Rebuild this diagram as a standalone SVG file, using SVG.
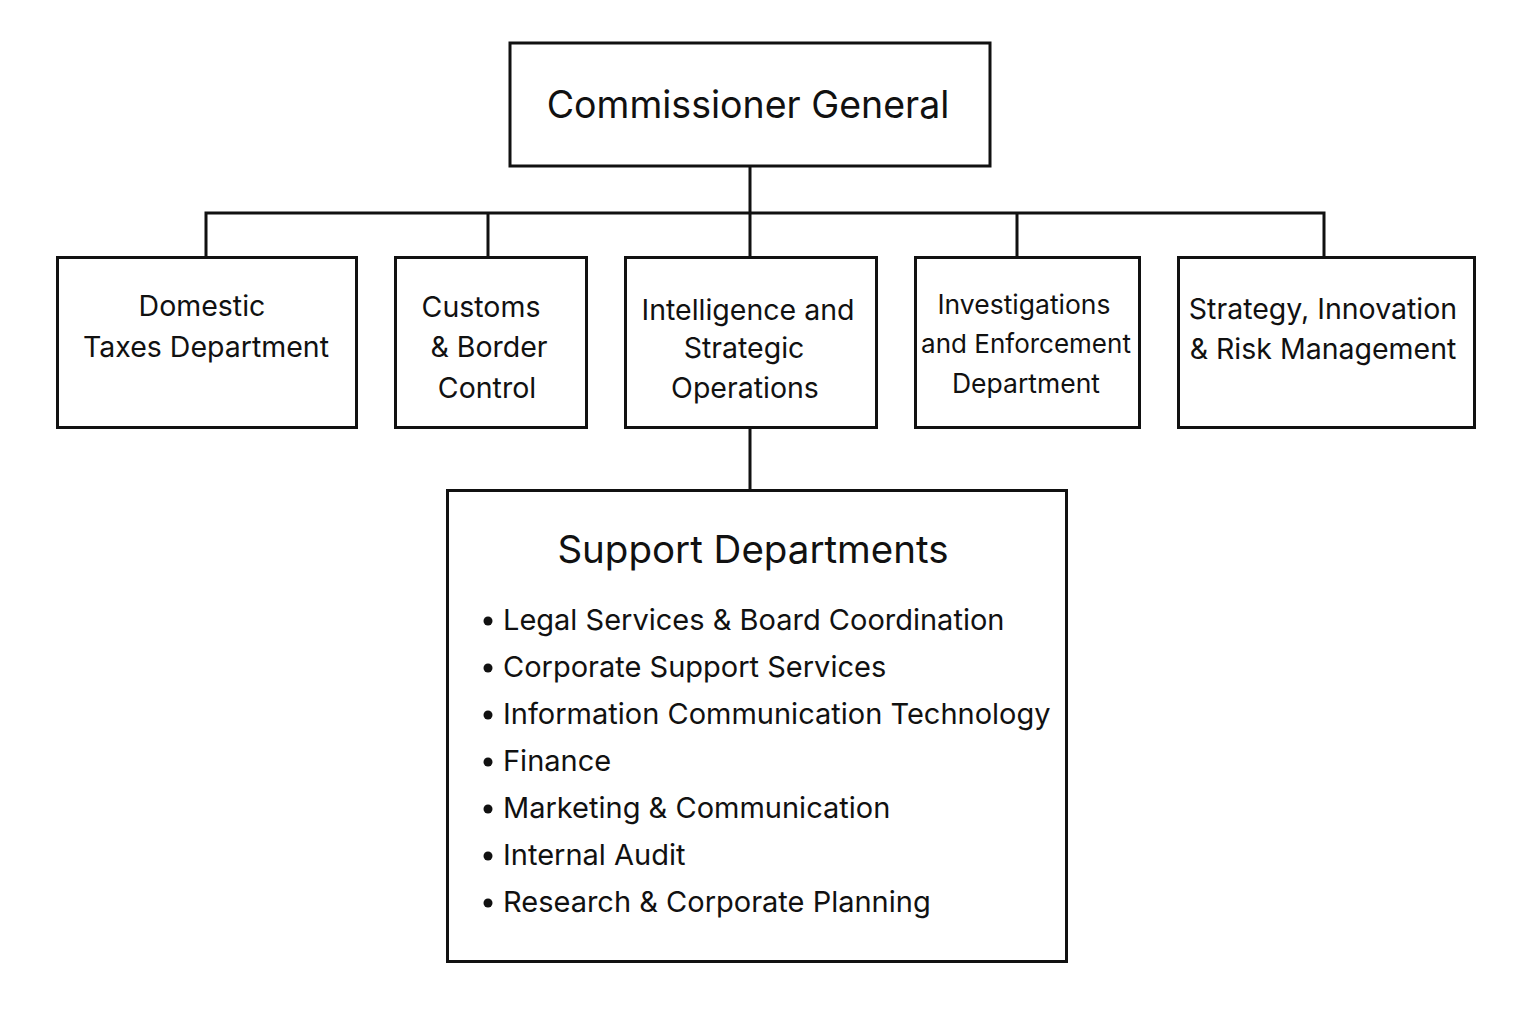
<svg xmlns="http://www.w3.org/2000/svg" width="1536" height="1024" viewBox="0 0 1536 1024">
<style>
.box{fill:#fff;stroke:#111;stroke-width:3}
.ln{fill:none;stroke:#111;stroke-width:3}
text{font-family:Inter,"Liberation Sans",sans-serif;fill:#111}
.t{font-size:28.5px;text-anchor:middle}
.big{font-size:37.5px;text-anchor:middle}
.li{font-size:29px}
</style>
<rect width="1536" height="1024" fill="#fff"/>
<g id="connectors">
<path class="ln" d="M750 166V213M206 257V213H1324V257M488 213V257M750 213V257M1017 213V257M750 427V490"/>
</g>
<g id="commissioner">
<rect class="box" x="510" y="43" width="480" height="123"/>
<text class="big" x="748" y="118">Commissioner General</text>
</g>
<g id="domestic">
<rect class="box" x="57.5" y="257.5" width="299" height="170"/>
<text class="t" x="202" y="316">Domestic</text>
<text class="t" x="206" y="357">Taxes Department</text>
</g>
<g id="customs">
<rect class="box" x="395.5" y="257.5" width="191" height="170"/>
<text class="t" x="481" y="317">Customs</text>
<text class="t" x="489" y="357">&amp; Border</text>
<text class="t" x="487" y="398">Control</text>
</g>
<g id="intelligence">
<rect class="box" x="625.5" y="257.5" width="251" height="170"/>
<text class="t" x="748" y="320">Intelligence and</text>
<text class="t" x="744" y="358">Strategic</text>
<text class="t" x="745" y="398">Operations</text>
</g>
<g id="investigations">
<rect class="box" x="915.5" y="257.5" width="224" height="170"/>
<text class="t" x="1024" y="314" style="font-size:26.5px">Investigations</text>
<text class="t" x="1026" y="353" style="font-size:26px">and Enforcement</text>
<text class="t" x="1026" y="393" style="font-size:26.5px">Department</text>
</g>
<g id="strategy">
<rect class="box" x="1178.5" y="257.5" width="296" height="170"/>
<text class="t" x="1323" y="319">Strategy, Innovation</text>
<text class="t" x="1323" y="359">&amp; Risk Management</text>
</g>
<g id="support">
<rect class="box" x="447.5" y="490.5" width="619" height="471"/>
<text class="big" x="753" y="563" style="font-size:38.5px">Support Departments</text>
<circle cx="488" cy="621" r="4.5" fill="#111"/><text class="li" x="503" y="630">Legal Services &amp; Board Coordination</text>
<circle cx="488" cy="668" r="4.5" fill="#111"/><text class="li" x="503" y="677">Corporate Support Services</text>
<circle cx="488" cy="715" r="4.5" fill="#111"/><text class="li" x="503" y="724">Information Communication Technology</text>
<circle cx="488" cy="762" r="4.5" fill="#111"/><text class="li" x="503" y="771">Finance</text>
<circle cx="488" cy="809" r="4.5" fill="#111"/><text class="li" x="503" y="818">Marketing &amp; Communication</text>
<circle cx="488" cy="856" r="4.5" fill="#111"/><text class="li" x="503" y="865">Internal Audit</text>
<circle cx="488" cy="903" r="4.5" fill="#111"/><text class="li" x="503" y="912">Research &amp; Corporate Planning</text>
</g>
</svg>
